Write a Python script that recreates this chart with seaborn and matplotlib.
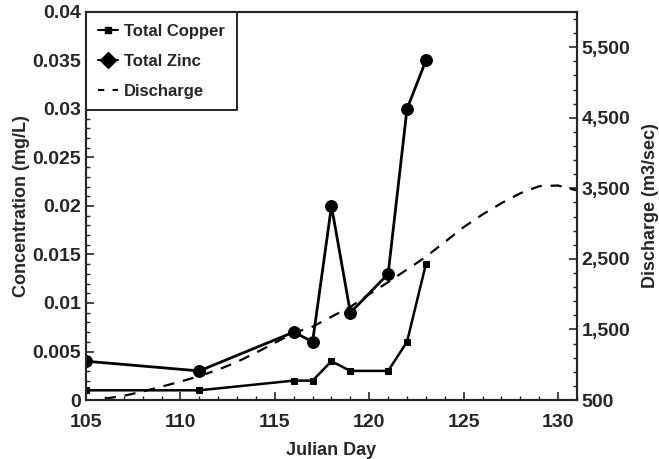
import pandas as pd
import matplotlib
matplotlib.use("Agg")
import matplotlib.pyplot as plt
from matplotlib.ticker import MultipleLocator, FuncFormatter
from matplotlib.lines import Line2D
import seaborn as sns

# sampled days and concentrations (mg/L)
days = [105, 111, 116, 117, 118, 119, 121, 122, 123]
copper = [0.001, 0.001, 0.002, 0.002, 0.004, 0.003, 0.003, 0.006, 0.014]
zinc = [0.004, 0.003, 0.007, 0.006, 0.020, 0.009, 0.013, 0.030, 0.035]

# discharge curve (m3/sec)
q_days = [106, 107, 108, 109, 110, 111, 112, 113, 114, 115, 116, 117, 118,
          119, 120, 121, 122, 123, 124, 125, 126, 127, 128, 129, 130, 131]
discharge = [520, 560, 620, 690, 760, 840, 930, 1040, 1170, 1310, 1450, 1540,
             1680, 1820, 2000, 2170, 2350, 2530, 2740, 2950, 3130, 3290, 3430,
             3530, 3540, 3470]

sns.set_style("ticks")
plt.rcParams['font.family'] = ['Liberation Sans', 'DejaVu Sans']
plt.rcParams['font.weight'] = 'bold'

fig = plt.figure(figsize=(6.59, 4.59), dpi=100)
ax = fig.add_axes([0.1305, 0.1285, 0.745, 0.8455])
ax2 = ax.twinx()

conc = pd.DataFrame({"day": days, "copper": copper, "zinc": zinc})
flow = pd.DataFrame({"day": q_days, "discharge": discharge})

sns.lineplot(data=conc, x="day", y="copper", ax=ax, color="black", lw=1.8,
             marker="s", markersize=4.5, markeredgecolor="black")
sns.lineplot(data=conc, x="day", y="zinc", ax=ax, color="black", lw=2.0,
             marker="o", markersize=8.5, markeredgecolor="black")
sns.lineplot(data=flow, x="day", y="discharge", ax=ax2, color="black", lw=1.6,
             linestyle=(0, (5, 4)))

ax.set_xlim(105, 131)
ax.set_ylim(0, 0.04)
ax2.set_ylim(500, 6000)

ax.xaxis.set_major_locator(MultipleLocator(5))
ax.xaxis.set_minor_locator(MultipleLocator(1))
ax.yaxis.set_major_locator(MultipleLocator(0.005))
ax.yaxis.set_minor_locator(MultipleLocator(0.001))
ax.yaxis.set_major_formatter(FuncFormatter(lambda v, p: "0" if v == 0 else f"{v:g}"))
ax2.yaxis.set_major_locator(MultipleLocator(1000, offset=500))
ax2.yaxis.set_minor_locator(MultipleLocator(200, offset=100))
ax2.yaxis.set_major_formatter(FuncFormatter(lambda v, p: f"{v:,.0f}"))

for a in (ax, ax2):
    a.tick_params(which="major", direction="in", length=6, width=1.2, labelsize=14)
    a.tick_params(which="minor", direction="in", length=3, width=1)
    for s in a.spines.values():
        s.set_linewidth(1.5)
ax.tick_params(axis="x", labelsize=14, pad=10)

ax.set_xlabel("Julian Day", fontsize=13, fontweight="bold", labelpad=8)
ax.set_ylabel("Concentration (mg/L)", fontsize=13, fontweight="bold", labelpad=2)
ax2.set_ylabel("Discharge (m3/sec)", fontsize=13, fontweight="bold", labelpad=8)

handles = [
    Line2D([], [], color="black", lw=1.5, marker="s", markersize=5),
    Line2D([], [], color="black", lw=1.5, marker="D", markersize=8),
    Line2D([], [], color="black", lw=1.5, linestyle=(0, (3, 4))),
]
leg = ax.legend(handles, ["Total Copper", "Total Zinc", "Discharge"],
                loc="upper left", bbox_to_anchor=(0, 1), fancybox=False,
                framealpha=1, edgecolor="black", handlelength=1.2,
                handletextpad=0.4, borderpad=0.7, labelspacing=0.9,
                prop={"size": 12, "weight": "bold"}, borderaxespad=0)
leg.get_frame().set_linewidth(1.2)

fig.savefig("out.png", dpi=100)
